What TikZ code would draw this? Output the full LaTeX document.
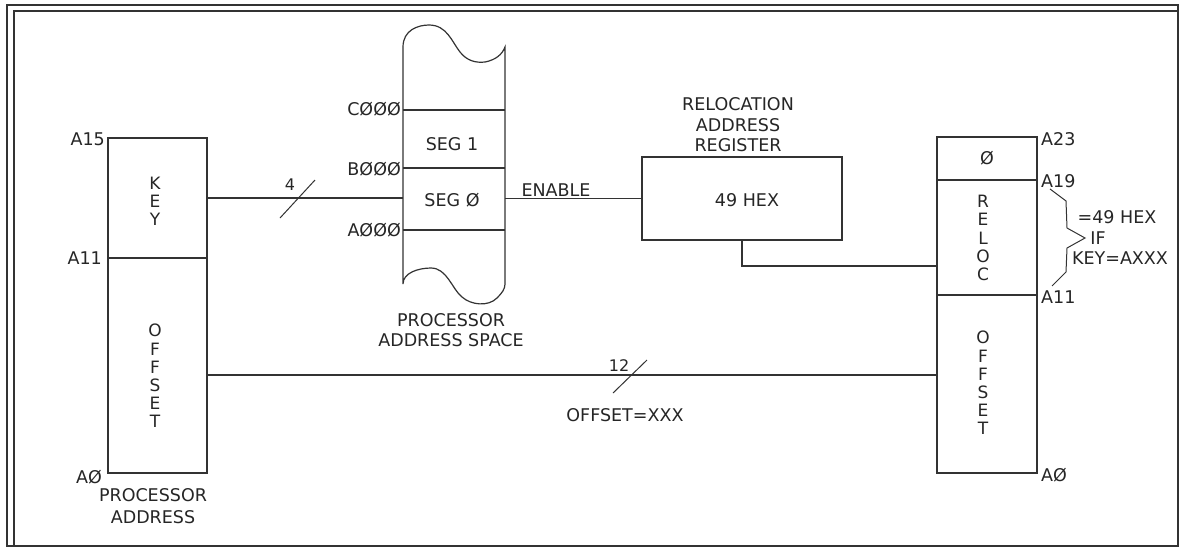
\documentclass[tikz,border=0pt]{standalone}
\usepackage{fontspec}
\setmainfont{DejaVu Sans}
\begin{document}
\begin{tikzpicture}[x=1pt,y=-1pt,
  ln/.style={draw=black!80, line width=1.2pt},
  cell/.style={ln, anchor=north west, inner sep=0pt, outer sep=0pt},
  lbl/.style={text=black!85, inner sep=0pt, font=\fontsize{17.5}{19}\selectfont},
  stack/.style={lbl, align=center, font=\fontsize{17}{18.2}\selectfont},
  twoline/.style={lbl, align=center, font=\fontsize{17.5}{20.5}\selectfont},
  tick/.style={draw=black!80, line width=1pt}
]
\useasboundingbox (0,0) rectangle (1182,550);
\fill[white] (0,0) rectangle (1182,550);
% frame
\draw[ln] (7,5) rectangle (1178,546);
\draw[ln] (14,545) -- (14,11) -- (1178,11);

% processor address
\node[cell, minimum width=99pt, minimum height=120pt] (key) at (108,138) {};
\node[cell, minimum width=99pt, minimum height=215pt] (poff) at (108,258) {};
\node[lbl, anchor=east] (a15) at (105,139) {A15};
\node[lbl, anchor=east] (a11l) at (102,258) {A11};
\node[lbl, anchor=east] (a0l) at (102,477) {AØ};
\node[stack] (keyt) at (155,201) {K\\E\\Y};
\node[stack] (pofft) at (155,376) {O\\F\\F\\S\\E\\T};
\node[twoline, font=\fontsize{17.5}{22}\selectfont] (pat) at (153,506) {PROCESSOR\\ADDRESS};

% processor address space
\node[inner sep=0pt, outer sep=0pt, minimum width=102pt, minimum height=243pt, anchor=north west] (mem) at (403,47) {};
\draw[ln] (403,47) -- (403,284)
  .. controls (403,273) and (418,268) .. (431,268)
  .. controls (447,268) and (452,289) .. (462,297)
  .. controls (471,305) and (488,307) .. (497,298)
  .. controls (502,293) and (505,289) .. (505,284)
  -- (505,47)
  .. controls (502,55) and (495,60) .. (485,62)
  .. controls (476,63) and (467,61) .. (460,52)
  .. controls (452,42) and (447,25) .. (429,25)
  .. controls (418,25) and (403,30) .. (403,47) -- cycle;
\draw[ln] (403,110) -- (505,110);
\draw[ln] (403,168) -- (505,168);
\draw[ln] (403,230) -- (505,230);
\node[lbl, anchor=east] (c000) at (401,109) {CØØØ};
\node[lbl, anchor=east] (b000) at (401,169) {BØØØ};
\node[lbl, anchor=east] (a000) at (401,230) {AØØØ};
\node[lbl] (seg1) at (452,144) {SEG 1};
\node[lbl] (seg0) at (452,200) {SEG Ø};
\node[twoline] (past) at (451,330) {PROCESSOR\\ADDRESS SPACE};

% key bus
\draw[ln] (key.east) -- (key.east -| mem.west);
\draw[tick] (280,218) -- (315,180);
\node[lbl, font=\fontsize{16}{16}\selectfont] (n4) at (290,185) {4};

% relocation register
\node[cell, minimum width=200pt, minimum height=83pt] (reg) at (642,157) {};
\node[lbl] (hex) at (747,200) {49 HEX};
\node[twoline] (regt) at (738,125) {RELOCATION\\ADDRESS\\REGISTER};
\draw[ln] (mem.east |- reg.west) -- (reg.west);
\node[lbl] (en) at (556,190) {ENABLE};

% resulting address
\node[cell, minimum width=100pt, minimum height=43pt] (rz) at (937,137) {};
\node[cell, minimum width=100pt, minimum height=115pt] (rreloc) at (937,180) {};
\node[cell, minimum width=100pt, minimum height=178pt] (roff) at (937,295) {};
\node[lbl] (zt) at (987,158) {Ø};
\node[stack] (reloct) at (983,238) {R\\E\\L\\O\\C};
\node[stack] (rofft) at (983,383) {O\\F\\F\\S\\E\\T};
\node[lbl, anchor=west] (a23) at (1041,139) {A23};
\node[lbl, anchor=west] (a19) at (1041,181) {A19};
\node[lbl, anchor=west] (a11r) at (1041,297) {A11};
\node[lbl, anchor=west] (a0r) at (1041,475) {AØ};

\draw[ln] (reg.south) |- (rreloc.west |- 0,266);

% offset bus
\draw[ln] (poff.east |- 0,375) -- (roff.west |- 0,375);
\draw[tick] (613,393) -- (647,360);
\node[lbl, font=\fontsize{16}{16}\selectfont] (n12) at (619,366) {12};
\node[lbl] (offx) at (625,415) {OFFSET=XXX};

% brace
\draw[tick] (1050,189) -- (1066,201) -- (1067,228) -- (1085,238) -- (1067,248) -- (1066,272) -- (1052,286);
\node[lbl] (b1) at (1117,217) {=49 HEX};
\node[lbl] (b2) at (1098,238) {IF};
\node[lbl] (b3) at (1120,258) {KEY=AXXX};
\end{tikzpicture}
\end{document}
